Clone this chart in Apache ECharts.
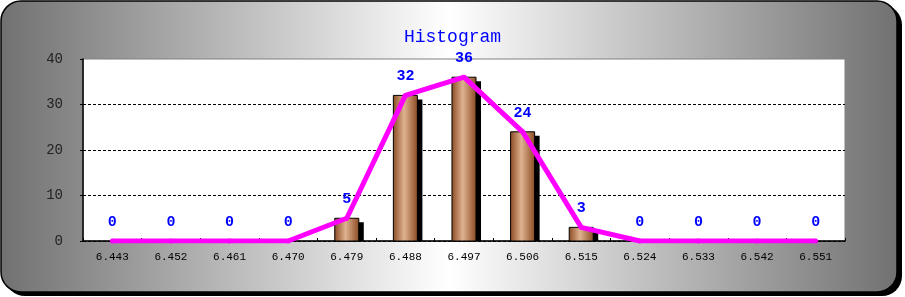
<!DOCTYPE html>
<html>
<head>
<meta charset="utf-8">
<script src="https://cdn.jsdelivr.net/npm/echarts@6/dist/echarts.min.js"></script>
<style>
html,body{margin:0;padding:0;background:#fff;}
#chart{width:905px;height:297px;}
</style>
</head>
<body>
<div id="chart"></div>
<script>
var categories = ['6.443','6.452','6.461','6.470','6.479','6.488','6.497','6.506','6.515','6.524','6.533','6.542','6.551'];
var counts = [0,0,0,0,5,32,36,24,3,0,0,0,0];
var yTicks = [0,10,20,30,40];
var titleText = 'Histogram';

var chart = echarts.init(document.getElementById('chart'), null, {renderer:'canvas'});
var monoFont = '"Liberation Mono", "DejaVu Sans Mono", monospace';

var option = {
  animation: false,
  backgroundColor: '#ffffff',
  graphic: [
    { type:'rect', z:-10, silent:true, shape:{x:5, y:5, width:897, height:291, r:20}, style:{fill:'#000'} },
    { type:'rect', z:-9, silent:true, shape:{x:1, y:1, width:896, height:291, r:20},
      style:{ fill: new echarts.graphic.LinearGradient(0,0,1,0,[
        {offset:0,color:'#717171'},{offset:0.5,color:'#ffffff'},{offset:1,color:'#717171'}]),
        stroke:'#000', lineWidth:1.5 } }
  ],
  title: {
    text: titleText, left: 'center', top: 23,
    textStyle: { color:'#0000ff', fontFamily: monoFont, fontSize:18, fontWeight:'normal' }
  },
  grid: { left:83, right:60, top:59, bottom:56, show:true, backgroundColor:'#ffffff', borderColor:'#808080', borderWidth:1 },
  xAxis: {
    type:'category', data: categories, boundaryGap:true,
    axisLine:{ lineStyle:{ color:'#000', width:1.5 } },
    axisTick:{ show:true, inside:true, length:3, lineStyle:{color:'#000'} },
    axisLabel:{ color:'#000', fontFamily: monoFont, fontSize:11, margin:11 },
    splitLine:{show:false}
  },
  yAxis: {
    type:'value', min:yTicks[0], max:yTicks[yTicks.length-1], interval:10,
    axisLine:{ show:true, lineStyle:{ color:'#000', width:1.5 } },
    axisTick:{ show:true, length:3, lineStyle:{color:'#000'} },
    axisLabel:{ color:'#222', fontFamily: monoFont, fontSize:14, margin:20 },
    splitLine:{ show:true, lineStyle:{ color:['#000','#000','#000','#000','transparent'], type:[3,2], width:1 } }
  },
  series: [
    {
      type:'custom', z:2,
      data: counts.map(function(v,i){ return [i, v]; }),
      renderItem: function(params, api){
        var v = api.value(1);
        if (!v) return null;
        var top = api.coord([api.value(0), v]);
        var base = api.coord([api.value(0), 0]);
        var w = api.size([1,0])[0] * 0.41;
        var x = top[0] - w/2;
        var h = base[1] - top[1];
        return { type:'group', children:[
          { type:'rect', shape:{ x:x+5, y:top[1]+4, width:w, height:Math.max(h-4,0) }, style:{ fill:'#000' } },
          { type:'rect', shape:{ x:x, y:top[1], width:w, height:h },
            style:{ fill: new echarts.graphic.LinearGradient(0,0,1,0,[
              {offset:0,color:'#8a4a22'},{offset:0.45,color:'#dfb290'},{offset:1,color:'#8a4a22'}]),
              stroke:'#000', lineWidth:1 } }
        ]};
      }
    },
    {
      type:'line', z:5, data: counts,
      symbol:'circle', symbolSize:5, showSymbol:true,
      itemStyle:{ color:'#ff00ff' },
      lineStyle:{ color:'#ff00ff', width:5 },
      label:{ show:true, position:'top', distance:9, color:'#0000ff', fontFamily: monoFont, fontSize:15, fontWeight:'bold' }
    }
  ]
};
chart.setOption(option);
</script>
</body>
</html>
